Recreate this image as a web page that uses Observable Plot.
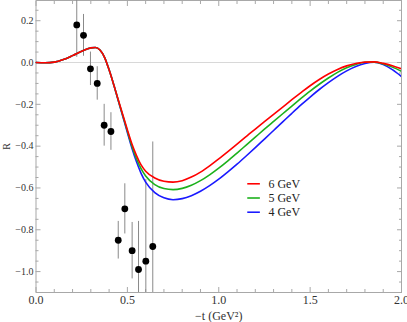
<!DOCTYPE html>
<html><head><meta charset="utf-8">
<script src="https://cdn.jsdelivr.net/npm/d3@7"></script>
<script src="https://cdn.jsdelivr.net/npm/@observablehq/plot@0.6"></script>
<style>body{margin:0;background:#fff}#chart{position:relative;width:407px;height:322px}</style>
</head><body><div id="chart"></div>
<script>
// model curves: -t grid and R for each beam energy
const tGrid = [0, 0.05, 0.1, 0.15, 0.2, 0.25, 0.3, 0.325, 0.35, 0.375, 0.4, 0.425, 0.45, 0.475, 0.5, 0.525, 0.55, 0.575, 0.6, 0.65, 0.7, 0.75, 0.8, 0.85, 0.9, 0.95, 1.0, 1.05, 1.1, 1.15, 1.2, 1.25, 1.3, 1.35, 1.4, 1.45, 1.5, 1.55, 1.6, 1.65, 1.7, 1.75, 1.8, 1.85, 1.9, 1.95, 2.0];
const r6GeV = [0, -0.001, 0.002, 0.014, 0.033, 0.054, 0.07, 0.072, 0.06, 0.025, -0.035, -0.105, -0.178, -0.25, -0.322, -0.39, -0.445, -0.49, -0.52, -0.552, -0.568, -0.572, -0.565, -0.548, -0.524, -0.494, -0.461, -0.426, -0.39, -0.354, -0.318, -0.283, -0.248, -0.213, -0.178, -0.144, -0.111, -0.081, -0.055, -0.033, -0.016, -0.005, 0.002, 0.003, -0.004, -0.015, -0.03];
const r5GeV = [0, -0.001, 0.002, 0.014, 0.033, 0.054, 0.07, 0.072, 0.06, 0.025, -0.035, -0.105, -0.18, -0.254, -0.328, -0.40, -0.46, -0.508, -0.543, -0.584, -0.603, -0.608, -0.602, -0.587, -0.565, -0.537, -0.505, -0.47, -0.433, -0.395, -0.357, -0.319, -0.282, -0.245, -0.208, -0.172, -0.137, -0.104, -0.074, -0.047, -0.025, -0.009, 0.001, 0.002, -0.007, -0.022, -0.042];
const r4GeV = [0, -0.001, 0.002, 0.014, 0.033, 0.054, 0.07, 0.072, 0.06, 0.025, -0.035, -0.105, -0.182, -0.258, -0.335, -0.41, -0.475, -0.53, -0.572, -0.622, -0.647, -0.656, -0.651, -0.637, -0.616, -0.589, -0.558, -0.523, -0.486, -0.447, -0.407, -0.366, -0.325, -0.284, -0.243, -0.203, -0.165, -0.129, -0.096, -0.066, -0.04, -0.019, -0.005, 0.001, -0.01, -0.034, -0.067];

// measured points
const dataT = [0.223, 0.26, 0.298, 0.335, 0.373, 0.41, 0.45, 0.486, 0.526, 0.561, 0.601, 0.639];
const dataR = [0.18, 0.13, -0.03, -0.10, -0.30, -0.33, -0.85, -0.70, -0.90, -0.99, -0.95, -0.88];
const dataErr = [0.155, 0.10, 0.08, 0.08, 0.10, 0.09, 0.09, 0.12, 0.135, 0.23, 0.39, 0.50];

const seriesNames = ["6 GeV", "5 GeV", "4 GeV"];
const seriesValues = [r6GeV, r5GeV, r4GeV];

// ticks
const xMajor = [0, 0.5, 1.0, 1.5, 2.0];
const xMinor = [0.1, 0.2, 0.3, 0.4, 0.6, 0.7, 0.8, 0.9, 1.1, 1.2, 1.3, 1.4, 1.6, 1.7, 1.8, 1.9];
const yMajor = [0.2, 0.0, -0.2, -0.4, -0.6, -0.8, -1.0];
const yMinor = [0.25, 0.15, 0.1, 0.05, -0.05, -0.1, -0.15, -0.25, -0.3, -0.35, -0.45, -0.5, -0.55, -0.65, -0.7, -0.75, -0.85, -0.9, -0.95, -1.05];

const colors = {"6 GeV": "#ff0000", "5 GeV": "#1cb11c", "4 GeV": "#1a1aff"};

const curves = [];
seriesNames.forEach((name, i) => tGrid.forEach((t, j) => curves.push({t, R: seriesValues[i][j], series: name})));
const drawOrder = ["4 GeV", "5 GeV", "6 GeV"];
const points = dataT.map((t, i) => ({t, R: dataR[i], err: dataErr[i]}));

// legend anchor (data coordinates)
const legX1 = 1.156, legX2 = 1.225, legTextX = 1.272, legY0 = -0.580, legDy = -0.068;
const legend = seriesNames.map((name, i) => ({name, y: legY0 + i * legDy}));

const axisStroke = "#a8a8a8";
const noText = () => "";

const chart = Plot.plot({
  width: 407,
  height: 322,
  marginLeft: 35.5,
  marginRight: 6,
  marginTop: 0,
  marginBottom: 30,
  style: {fontFamily: "'Liberation Serif', serif", fontSize: "10px", color: "#333", background: "#fff"},
  x: {domain: [0, 2], label: null},
  y: {domain: [-1.1, 0.2967], label: null},
  marks: [
    Plot.ruleY([0], {stroke: "#d8d8d8", strokeWidth: 1}),
    Plot.frame({stroke: axisStroke}),
    // inward ticks on all four sides
    Plot.axisX(xMajor, {anchor: "bottom", tickSize: -5, stroke: axisStroke, tickFormat: noText, label: null}),
    Plot.axisX(xMinor, {anchor: "bottom", tickSize: -3, stroke: axisStroke, tickFormat: noText, label: null}),
    Plot.axisX(xMajor, {anchor: "top", tickSize: -5, stroke: axisStroke, tickFormat: noText, label: null}),
    Plot.axisX(xMinor, {anchor: "top", tickSize: -3, stroke: axisStroke, tickFormat: noText, label: null}),
    Plot.axisY(yMajor, {anchor: "left", tickSize: -5, stroke: axisStroke, tickFormat: noText, label: null}),
    Plot.axisY(yMinor, {anchor: "left", tickSize: -3, stroke: axisStroke, tickFormat: noText, label: null}),
    Plot.axisY(yMajor, {anchor: "right", tickSize: -5, stroke: axisStroke, tickFormat: noText, label: null}),
    Plot.axisY(yMinor, {anchor: "right", tickSize: -3, stroke: axisStroke, tickFormat: noText, label: null}),
    // labels
    Plot.axisX(xMajor, {anchor: "bottom", tickSize: 0, tickPadding: 3, tickFormat: d3.format(".1f"), fill: "#333",
      label: "−t (GeV²)", labelAnchor: "center", labelArrow: "none", labelOffset: 27, fontSize: 12}),
    Plot.axisY(yMajor, {anchor: "left", tickSize: 0, tickPadding: 2.5, tickFormat: d3.format(".1f"), fill: "#333",
      label: "R", labelAnchor: "center", labelArrow: "none", labelOffset: 33, fontSize: 10}),
    // error bars and points
    Plot.ruleX(points, {x: "t", y1: d => d.R - d.err, y2: d => d.R + d.err, stroke: "#8a8a8a", strokeWidth: 1, clip: true}),
    Plot.dot(points, {x: "t", y: "R", r: 3.4, fill: "#000", stroke: "none"}),
    // model curves
    ...drawOrder.map(name => Plot.line(curves.filter(d => d.series === name), {
      x: "t", y: "R", stroke: colors[name], strokeWidth: 1.6, curve: "monotone-x", clip: true
    })),
    // legend
    Plot.link(legend, {x1: legX1, x2: legX2, y1: "y", y2: "y", stroke: d => colors[d.name], strokeWidth: 1.6}),
    Plot.text(legend, {x: legTextX, y: "y", text: "name", textAnchor: "start", fontSize: 12, fill: "#222"})
  ]
});
document.getElementById("chart").appendChild(chart);
</script>
</body></html>
